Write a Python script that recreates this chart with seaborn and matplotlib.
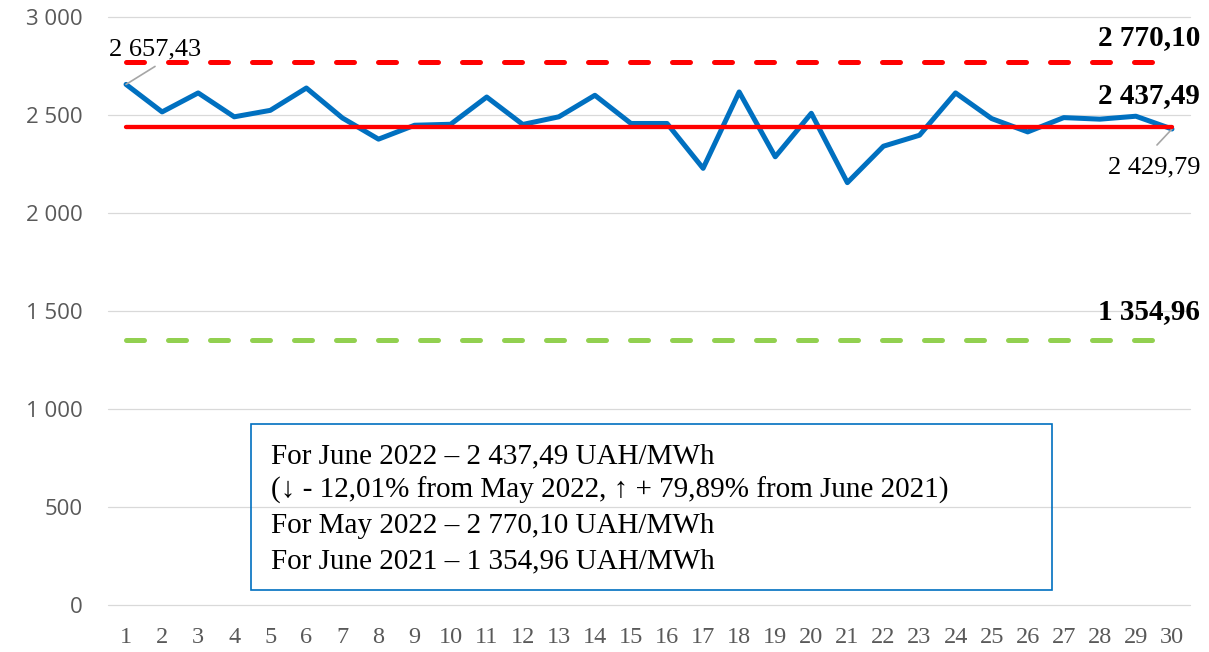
import matplotlib
matplotlib.use("Agg")
import matplotlib.pyplot as plt
import matplotlib.transforms as mtransforms
from matplotlib.patches import Rectangle
from matplotlib.ticker import FuncFormatter
import seaborn as sns
import pandas as pd

# ---- data ----
days = list(range(1, 31))
prices = [2657.43, 2517, 2614, 2492, 2525, 2639, 2486, 2378, 2449, 2454,
          2593, 2453, 2492, 2602, 2458, 2458, 2229, 2619, 2288, 2510,
          2156, 2342, 2398, 2614, 2483, 2415, 2488, 2480, 2495, 2429.79]
avg_june_2022 = 2437.49
avg_may_2022 = 2770.10
avg_june_2021 = 1354.96
y_ticks = [0, 500, 1000, 1500, 2000, 2500, 3000]
ref_labels = ["2 770,10", "2 437,49", "1 354,96"]
first_label = "2 657,43"
last_label = "2 429,79"
box_lines = [
    "For June 2022 \u2013 2 437,49 UAH/MWh",
    "(\u2193 - 12,01% from May 2022, \u2191 + 79,89% from June 2021)",
    "For May 2022 \u2013 2 770,10 UAH/MWh",
    "For June 2021 \u2013 1 354,96 UAH/MWh",
]

sns.set_style("white")
plt.rcParams["font.family"] = ["Liberation Serif", "DejaVu Serif"]

fig, ax = plt.subplots(figsize=(12.09, 6.52), dpi=100)
fig.subplots_adjust(left=108/1209, right=1190/1209, top=1-17.3/652, bottom=1-605/652)

df = pd.DataFrame({"day": days, "price": prices})
sns.lineplot(data=df, x="day", y="price", ax=ax, color="#0070C0", lw=3.6,
             solid_joinstyle="round", solid_capstyle="round", zorder=3)

ends = [days[0], days[-1]]
ref_df = pd.DataFrame({"day": ends * 3,
                       "value": [avg_may_2022] * 2 + [avg_june_2022] * 2 + [avg_june_2021] * 2,
                       "kind": ["may"] * 2 + ["june"] * 2 + ["june21"] * 2})

l_may, = ax.plot(ref_df[ref_df.kind == "may"].day, ref_df[ref_df.kind == "may"].value,
                 color="#FF0000", lw=3.6, dash_capstyle="round", zorder=4)
l_may.set_dashes((3.6, 4.8))
l_j21, = ax.plot(ref_df[ref_df.kind == "june21"].day, ref_df[ref_df.kind == "june21"].value,
                 color="#92D050", lw=3.6, dash_capstyle="round", zorder=4)
l_j21.set_dashes((3.6, 4.8))
ax.plot(ref_df[ref_df.kind == "june"].day, ref_df[ref_df.kind == "june"].value,
        color="#FF0000", lw=3.1, solid_capstyle="round", zorder=5)

ax.set_xlim(0.5, 30.5)
ax.set_ylim(0, 3000)
ax.set_xticks(days)
ax.set_xticklabels([str(d) for d in days])
ax.set_yticks(y_ticks)
ax.yaxis.set_major_formatter(FuncFormatter(lambda v, p: f"{int(v):,}".replace(",", " ")))
ax.set_xlabel("")
ax.set_ylabel("")
for s in ax.spines.values():
    s.set_visible(False)
ax.grid(axis="y", color="#D9D9D9", lw=0.9)
ax.grid(axis="x", visible=False)
ax.set_axisbelow(True)
for gl in ax.get_ygridlines():
    gl.set_clip_on(False)

ax.tick_params(axis="x", length=0, pad=16, labelsize=17.5, labelcolor="#595959")
ax.tick_params(axis="y", length=0, pad=18, labelsize=16, labelcolor="#595959")
for t in ax.get_yticklabels():
    t.set_fontfamily(["Open Sans", "DejaVu Sans"])

# reference value labels (bold, right side)
trans = mtransforms.blended_transform_factory(ax.transAxes, ax.transData)
for val, lab, dy in zip([avg_may_2022, avg_june_2022, avg_june_2021], ref_labels, [18, 23, 20]):
    ax.annotate(lab, xy=(1.0095, val), xycoords=trans, xytext=(0, dy), textcoords="offset points",
                ha="right", va="center", fontsize=21, fontweight="bold", color="black")

# first / last point labels with leader lines
ax.annotate("", xy=(days[0], prices[0]), xytext=(29, 18), textcoords="offset pixels",
            arrowprops=dict(arrowstyle="-", color="#A6A6A6", lw=1.2, shrinkA=0, shrinkB=0))
ax.annotate(first_label, xy=(days[0], prices[0]), xytext=(29, 35), textcoords="offset pixels",
            ha="center", va="center", fontsize=19, color="black")
ax.annotate("", xy=(days[-1], prices[-1]), xytext=(-15, -16), textcoords="offset pixels",
            arrowprops=dict(arrowstyle="-", color="#A6A6A6", lw=1.2, shrinkA=0, shrinkB=0))
ax.annotate(last_label, xy=(days[-1], prices[-1]), xytext=(-18, -38), textcoords="offset pixels",
            ha="center", va="center", fontsize=19, color="black")

# info box
box = Rectangle((0.1322, 0.0255), 0.8725 - 0.1322, 0.3078 - 0.0255, transform=ax.transAxes,
                fill=False, edgecolor="#0070C0", lw=1.2, zorder=6)
ax.add_patch(box)
for line, yb in zip(box_lines, [0.2415, 0.182, 0.1224, 0.0629]):
    ax.text(0.1506, yb, line, transform=ax.transAxes, ha="left", va="baseline",
            fontsize=21, color="black", zorder=7)

fig.savefig("out.png", dpi=100)
